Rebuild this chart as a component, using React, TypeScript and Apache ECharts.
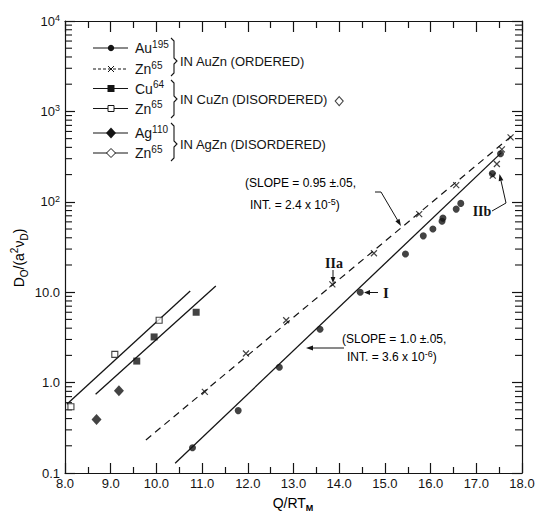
import React, { useEffect, useRef } from "react";
import * as echarts from "echarts";

// ---- data ----
const auX = [10.79, 11.79, 12.69, 13.58, 14.46, 15.45, 15.84, 16.05, 16.25, 16.27, 16.56, 16.66, 17.35, 17.53];
const auY = [0.19, 0.49, 1.48, 3.9, 10.0, 26.5, 42, 50, 61, 66, 83, 96, 205, 340];
const znAuX = [11.06, 11.96, 12.84, 13.85, 14.76, 15.75, 16.56, 17.36, 17.45, 17.56, 17.75];
const znAuY = [0.79, 2.1, 4.9, 12.2, 27, 73, 153, 195, 262, 380, 517];
const cuX = [9.57, 9.95, 10.87];
const cuY = [1.73, 3.2, 6.0];
const znCuX = [8.13, 9.09, 10.06];
const znCuY = [0.54, 2.05, 4.9];
const agX = [8.69, 9.18];
const agY = [0.39, 0.81];
const znAgX = [14.0];
const znAgY = [1300];

const fitAuX = [10.41, 17.55];
const fitAuY = [0.128, 350];
const fitZnAuX = [9.77, 17.8];
const fitZnAuY = [0.232, 548];
const fitZnCuX = [8.04, 10.74];
const fitZnCuY = [0.575, 10.3];
const fitCuX = [8.67, 11.3];
const fitCuY = [0.743, 11.7];

const xMin = 8;
const xMax = 18;
const yMin = 0.1;
const yMax = 10000;
const decades = [0.1, 1, 10, 100, 1000];
const minorMult = [2, 3, 4, 5, 6, 7, 8, 9];
const yTickLabels: Record<string, string> = {
  "-1": "0.1",
  "0": "1.0",
  "1": "10.0",
  "2": "{b|10}{s|2}",
  "3": "{b|10}{s|3}",
  "4": "{b|10}{s|4}",
};

const INK = "#141414";
const FONT = "'Liberation Sans', Arial, sans-serif";
const SERIF = "'Liberation Serif', 'Times New Roman', serif";

const zip = (xs: number[], ys: number[]) => xs.map((x, i) => [x, ys[i]]);

function arrow(x1: number, y1: number, x2: number, y2: number, head = 7) {
  const ang = Math.atan2(y2 - y1, x2 - x1);
  const hw = 2.4;
  const bx = x2 - head * Math.cos(ang);
  const by = y2 - head * Math.sin(ang);
  const px = -Math.sin(ang) * hw;
  const py = Math.cos(ang) * hw;
  return [
    { type: "line", shape: { x1, y1, x2: bx, y2: by }, style: { stroke: INK, lineWidth: 1 } },
    {
      type: "polygon",
      shape: { points: [[x2, y2], [bx + px, by + py], [bx - px, by - py]] },
      style: { fill: INK },
    },
  ];
}

const supRich = {
  m: { fontSize: 14, lineHeight: 18, fontFamily: FONT, fill: INK, color: INK },
  s: { fontSize: 10, lineHeight: 10, verticalAlign: "top", fontFamily: FONT, fill: INK, color: INK },
};

function legendText(main: string, sup: string, y: number) {
  return {
    type: "text",
    x: 135,
    y,
    style: {
      text: `{m|${main}}{s|${sup}}`,
      rich: supRich,
      verticalAlign: "middle",
      align: "left",
      fill: INK,
    },
  };
}

function plainText(text: string, x: number, y: number, size = 14, align = "left", family = FONT, weight = "normal") {
  return {
    type: "text",
    x,
    y,
    style: { text, fontSize: size, fontFamily: family, fontWeight: weight, fill: INK, align, verticalAlign: "middle" },
  };
}

function brace(x: number, top: number, bot: number, mid: number) {
  return {
    type: "polyline",
    shape: {
      points: [
        [x, top],
        [x + 3, top + 3],
        [x + 3, mid - 3],
        [x + 6, mid],
        [x + 3, mid + 3],
        [x + 3, bot - 3],
        [x, bot],
      ],
    },
    style: { stroke: INK, lineWidth: 1.1, fill: "none" },
  };
}

function legendLine(y: number, dashed = false) {
  return {
    type: "line",
    shape: { x1: 93, y1: y, x2: 128, y2: y },
    style: { stroke: INK, lineWidth: 1.1, lineDash: dashed ? [3, 2] : null },
  };
}

const annRich = {
  t: { fontSize: 12, lineHeight: 15, fontFamily: FONT, color: INK },
  s: { fontSize: 9, lineHeight: 9, verticalAlign: "top", fontFamily: FONT, color: INK },
};

export default function App() {
  const ref = useRef<HTMLDivElement>(null);

  useEffect(() => {
    if (!ref.current) return;
    const chart = echarts.init(ref.current, null, { renderer: "svg" });

    const minorVals: number[][] = [];
    decades.forEach((d) => minorMult.forEach((m) => minorVals.push([d * m])));

    const scatterBase = { type: "scatter", xAxisIndex: 0, yAxisIndex: 0, z: 5 };
    const lineBase = {
      type: "line",
      xAxisIndex: 0,
      yAxisIndex: 0,
      symbol: "none",
      silent: true,
      z: 3,
    };

    const axisLineStyle = { lineStyle: { color: INK, width: 1.2 } };

    const graphic: any[] = [
      // legend
      legendLine(48),
      { type: "circle", shape: { cx: 111, cy: 48, r: 3.2 }, style: { fill: INK } },
      legendText("Au", "195", 48),
      legendLine(69, true),
      { type: "line", shape: { x1: 108, y1: 66, x2: 114, y2: 72 }, style: { stroke: INK, lineWidth: 1 } },
      { type: "line", shape: { x1: 114, y1: 66, x2: 108, y2: 72 }, style: { stroke: INK, lineWidth: 1 } },
      legendText("Zn", "65", 69),
      legendLine(88.5),
      { type: "rect", shape: { x: 107.5, y: 85, width: 7, height: 7 }, style: { fill: INK } },
      legendText("Cu", "64", 88.5),
      legendLine(108.5),
      { type: "rect", shape: { x: 108, y: 105.5, width: 6, height: 6 }, style: { fill: "#fff", stroke: INK, lineWidth: 1 } },
      legendText("Zn", "65", 108.5),
      legendLine(133),
      { type: "polygon", shape: { points: [[111, 127.5], [116, 133], [111, 138.5], [106, 133]] }, style: { fill: INK } },
      legendText("Ag", "110", 133),
      legendLine(153),
      { type: "polygon", shape: { points: [[111, 148.5], [115.5, 153], [111, 157.5], [106.5, 153]] }, style: { fill: "#fff", stroke: INK, lineWidth: 1 } },
      legendText("Zn", "65", 153),
      brace(171, 38, 76, 61),
      brace(171, 80, 118, 99),
      brace(171, 123, 161, 144),
      plainText("IN AuZn (ORDERED)", 180, 61, 13),
      plainText("IN CuZn (DISORDERED)", 180, 99.5, 13),
      plainText("IN AgZn (DISORDERED)", 180, 144.5, 13),

      // slope annotations
      {
        type: "text",
        x: 245,
        y: 183,
        style: { text: "{t|(SLOPE = 0.95 ±.05,}", rich: annRich, verticalAlign: "middle", align: "left" },
      },
      {
        type: "text",
        x: 250,
        y: 205,
        style: { text: "{t|INT. = 2.4 x 10}{s|-5}{t|)}", rich: annRich, verticalAlign: "middle", align: "left" },
      },
      { type: "line", shape: { x1: 375, y1: 192, x2: 381, y2: 192 }, style: { stroke: INK, lineWidth: 1 } },
      ...arrow(381, 192, 401, 226),

      {
        type: "text",
        x: 342,
        y: 339,
        style: { text: "{t|(SLOPE = 1.0 ±.05,}", rich: annRich, verticalAlign: "middle", align: "left" },
      },
      {
        type: "text",
        x: 347,
        y: 357,
        style: { text: "{t|INT. = 3.6 x 10}{s|-6}{t|)}", rich: annRich, verticalAlign: "middle", align: "left" },
      },
      ...arrow(344, 348, 306, 348),

      // roman numeral labels
      plainText("IIa", 334, 263, 14, "center", SERIF, "bold"),
      ...arrow(333, 270, 333, 283, 6),
      plainText("I", 386, 292.5, 15, "center", SERIF, "bold"),
      ...arrow(378, 292.5, 364, 292.5, 6),
      plainText("IIb", 482, 211, 14, "center", SERIF, "bold"),
      { type: "polyline", shape: { points: [[492, 211], [506, 203]] }, style: { stroke: INK, lineWidth: 1, fill: "none" } },
      ...arrow(506, 203, 499.5, 174, 7),

      // axis titles
      {
        type: "text",
        x: 19,
        y: 258,
        rotation: Math.PI / 2,
        style: {
          text: "{t|D}{b|O}{t|/(a}{p|2}{t|ν}{b|D}{t|)}",
          rich: {
            t: { fontSize: 14, lineHeight: 20, fontFamily: FONT, color: INK },
            p: { fontSize: 10, lineHeight: 10, verticalAlign: "top", fontFamily: FONT, color: INK },
            b: { fontSize: 10, lineHeight: 12, verticalAlign: "bottom", fontFamily: FONT, color: INK },
          },
          align: "center",
          verticalAlign: "middle",
        },
      },
      {
        type: "text",
        x: 293,
        y: 503,
        style: {
          text: "{t|Q/RT}{b|M}",
          rich: {
            t: { fontSize: 14, lineHeight: 18, fontFamily: FONT, color: INK },
            b: { fontSize: 9, lineHeight: 10, verticalAlign: "bottom", fontFamily: FONT, color: INK, fontWeight: "bold" },
          },
          align: "center",
          verticalAlign: "middle",
        },
      },
    ];

    const option: any = {
      animation: false,
      backgroundColor: "#ffffff",
      grid: { left: 65, right: 16, top: 21, bottom: 41, containLabel: false, outerBoundsMode: "none" },
      xAxis: [
        {
          type: "value",
          min: xMin,
          max: xMax,
          interval: 1,
          position: "bottom",
          axisLine: axisLineStyle,
          axisTick: { show: true, inside: true, length: 10, lineStyle: { color: INK, width: 1.2 } },
          minorTick: { show: true, splitNumber: 2, length: 6, lineStyle: { color: INK, width: 1.2 } },
          splitLine: { show: false },
          axisLabel: {
            show: true,
            margin: 4,
            fontSize: 13,
            fontFamily: FONT,
            color: INK,
            showMinLabel: true,
            showMaxLabel: true,
            hideOverlap: false,
            formatter: (v: number) => v.toFixed(1),
          },
        },
        {
          type: "value",
          min: xMin,
          max: xMax,
          interval: 1,
          position: "top",
          axisLine: axisLineStyle,
          axisTick: { show: true, inside: true, length: 11, lineStyle: { color: INK, width: 1.2 } },
          minorTick: { show: true, splitNumber: 2, length: 7, lineStyle: { color: INK, width: 1.2 } },
          splitLine: { show: false },
          axisLabel: { show: false },
        },
      ],
      yAxis: [
        {
          type: "log",
          logBase: 10,
          min: yMin,
          max: yMax,
          splitNumber: 5,
          position: "left",
          axisLine: axisLineStyle,
          axisTick: { show: true, inside: true, length: 10, lineStyle: { color: INK, width: 1.2 } },
          splitLine: { show: false },
          axisLabel: {
            show: true,
            margin: 5,
            fontFamily: FONT,
            fontSize: 13,
            color: INK,
            showMinLabel: true,
            showMaxLabel: true,
            hideOverlap: false,
            formatter: (v: number) => yTickLabels[String(Math.round(Math.log10(v)))] ?? "",
            rich: {
              b: { fontSize: 13, lineHeight: 15, fontFamily: FONT, color: INK },
              s: { fontSize: 9, lineHeight: 9, verticalAlign: "top", fontFamily: FONT, color: INK },
            },
          },
        },
        {
          type: "log",
          logBase: 10,
          min: yMin,
          max: yMax,
          splitNumber: 5,
          position: "right",
          axisLine: axisLineStyle,
          axisTick: { show: true, inside: true, length: 10, lineStyle: { color: INK, width: 1.2 } },
          splitLine: { show: false },
          axisLabel: { show: false },
        },
      ],
      series: [
        {
          type: "custom",
          xAxisIndex: 0,
          yAxisIndex: 0,
          silent: true,
          clip: false,
          data: minorVals,
          encode: { y: 0 },
          renderItem: (params: any, api: any) => {
            const v = api.value(0);
            const l = api.coord([xMin, v]);
            const r = api.coord([xMax, v]);
            return {
              type: "group",
              children: [
                { type: "line", shape: { x1: l[0], y1: l[1], x2: l[0] + 7, y2: l[1] }, style: { stroke: INK, lineWidth: 1.1 } },
                { type: "line", shape: { x1: r[0], y1: r[1], x2: r[0] - 7, y2: r[1] }, style: { stroke: INK, lineWidth: 1.1 } },
              ],
            };
          },
        },
        { ...lineBase, name: "fitAu", data: zip(fitAuX, fitAuY), lineStyle: { color: INK, width: 1.3 } },
        { ...lineBase, name: "fitZnAu", data: zip(fitZnAuX, fitZnAuY), lineStyle: { color: INK, width: 1.2, type: [7, 5] } },
        { ...lineBase, name: "fitZnCu", data: zip(fitZnCuX, fitZnCuY), lineStyle: { color: INK, width: 1.3 } },
        { ...lineBase, name: "fitCu", data: zip(fitCuX, fitCuY), lineStyle: { color: INK, width: 1.3 } },
        {
          ...scatterBase,
          name: "Au195",
          data: zip(auX, auY),
          symbol: "circle",
          symbolSize: 7,
          itemStyle: { color: INK },
        },
        {
          ...scatterBase,
          name: "Zn65 AuZn",
          data: zip(znAuX, znAuY),
          symbol: "path://M0,0L10,10M10,0L0,10",
          symbolSize: 6,
          itemStyle: { color: "rgba(0,0,0,0)", borderColor: INK, borderWidth: 1.2 },
        },
        {
          ...scatterBase,
          name: "Cu64",
          data: zip(cuX, cuY),
          symbol: "rect",
          symbolSize: 7,
          itemStyle: { color: INK },
        },
        {
          ...scatterBase,
          name: "Zn65 CuZn",
          data: zip(znCuX, znCuY),
          symbol: "rect",
          symbolSize: 6,
          itemStyle: { color: "#fff", borderColor: INK, borderWidth: 1.1 },
        },
        {
          ...scatterBase,
          name: "Ag110",
          data: zip(agX, agY),
          symbol: "diamond",
          symbolSize: [10, 11],
          itemStyle: { color: INK },
        },
        {
          ...scatterBase,
          name: "Zn65 AgZn",
          data: zip(znAgX, znAgY),
          symbol: "diamond",
          symbolSize: [8, 9],
          itemStyle: { color: "#fff", borderColor: INK, borderWidth: 1.1 },
        },
      ],
      graphic,
    };

    chart.setOption(option);
    return () => chart.dispose();
  }, []);

  return (
    <div
      ref={ref}
      style={{ position: "absolute", left: 0, top: 0, width: 538, height: 514, background: "#fff" }}
    />
  );
}
